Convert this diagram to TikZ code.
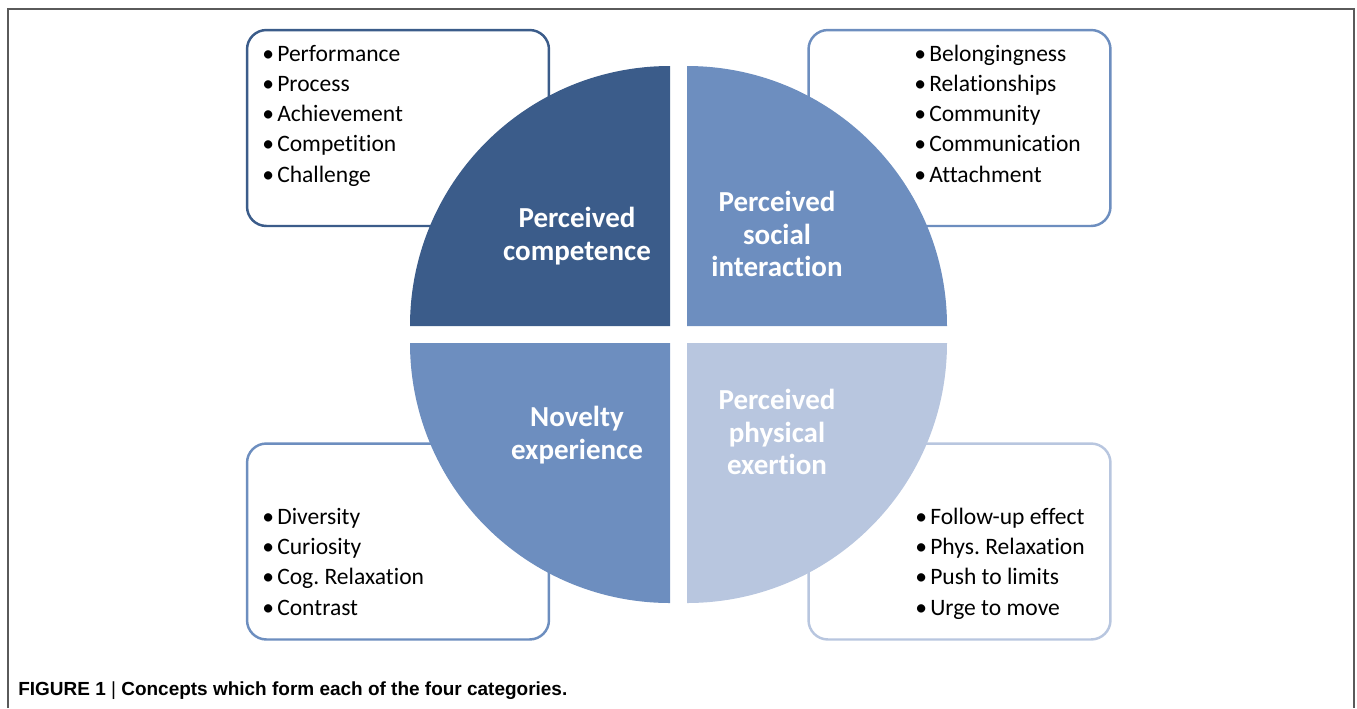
\documentclass[tikz,border=0pt]{standalone}
\usepackage{fontspec}
\setmainfont{Carlito}[Ligatures=NoCommon]
\newfontfamily\capfont{Liberation Sans}

\definecolor{darkq}{HTML}{3B5C8A}
\definecolor{midq}{HTML}{6D8EBF}
\definecolor{lightq}{HTML}{B8C6DF}
\definecolor{framegray}{HTML}{5A5A5A}

\tikzset{
  listbox/.style={draw, line width=1.4pt, rounded corners=11pt, fill=white,
    minimum width=6.04cm, minimum height=3.92cm, inner sep=0pt},
  item/.style={anchor=base west, inner sep=0pt, font=\fontsize{13.4}{15}\selectfont},
  quadlabel/.style={align=center, text=white, inner sep=0pt,
    font=\bfseries\fontsize{16.5}{18.6}\selectfont},
}

\begin{document}
\frenchspacing
\begin{tikzpicture}[x=0.02cm, y=-0.02cm]

  \useasboundingbox (0,0) rectangle (1357,708);

  %--- Cadre ---
  \draw[framegray, line width=1.2pt] (8,708) -- (8,9) -- (1354,9) -- (1354,708);

  %--- Boites des concepts ---
  \node[listbox, draw=darkq]  (boxTL) at (398,128)   {};
  \node[listbox, draw=midq]   (boxTR) at (959.5,128) {};
  \node[listbox, draw=midq]   (boxBL) at (398,541.5) {};
  \node[listbox, draw=lightq] (boxBR) at (959.5,541.5) {};

  %--- Quarts de disque ---
  \fill[darkq]  (670,326) -- (410,326) arc[start angle=180, end angle=270, radius=260] -- cycle;
  \fill[midq]   (687,326) -- (687,66)  arc[start angle=270, end angle=360, radius=260] -- cycle;
  \fill[midq]   (670,343) -- (670,603) arc[start angle=90,  end angle=180, radius=260] -- cycle;
  \fill[lightq] (687,343) -- (947,343) arc[start angle=0,   end angle=90,  radius=260] -- cycle;

  %--- Categories ---
  \node[quadlabel] (compet) at (577,236) {Perceived\\competence};
  \node[quadlabel] (social) at (777,234) {Perceived\\social\\interaction};
  \node[quadlabel] (novel)  at (577,435) {Novelty\\experience};
  \node[quadlabel] (exert)  at (777,432) {Perceived\\physical\\exertion};

  %--- Listes ---
  \foreach \txt [count=\i] in {Performance, Process, Achievement, Competition, Challenge}
    \node[item] (tl\i) at (262,{61+30.25*(\i-1)}) {\makebox[8.5pt][l]{\textbullet}\txt};
  \foreach \txt [count=\i] in {Belongingness, Relationships, Community, Communication, Attachment}
    \node[item] (tr\i) at (914,{61+30.25*(\i-1)}) {\makebox[8.5pt][l]{\textbullet}\txt};
  \foreach \txt [count=\i] in {Diversity, Curiosity, Cog. Relaxation, Contrast}
    \node[item] (bl\i) at (262,{524+30.4*(\i-1)}) {\makebox[8.5pt][l]{\textbullet}\txt};
  \foreach \txt [count=\i] in {Follow-up effect, Phys. Relaxation, Push to limits, Urge to move}
    \node[item] (br\i) at (915,{524+30.4*(\i-1)}) {\makebox[8.5pt][l]{\textbullet}\txt};

  %--- Legende ---
  \node[anchor=base west, inner sep=0pt] (caption) at (18,695)
    {\capfont\bfseries\fontsize{10.8}{12}\selectfont FIGURE 1 {\mdseries|} Concepts which form each of the four categories.};

\end{tikzpicture}
\end{document}
